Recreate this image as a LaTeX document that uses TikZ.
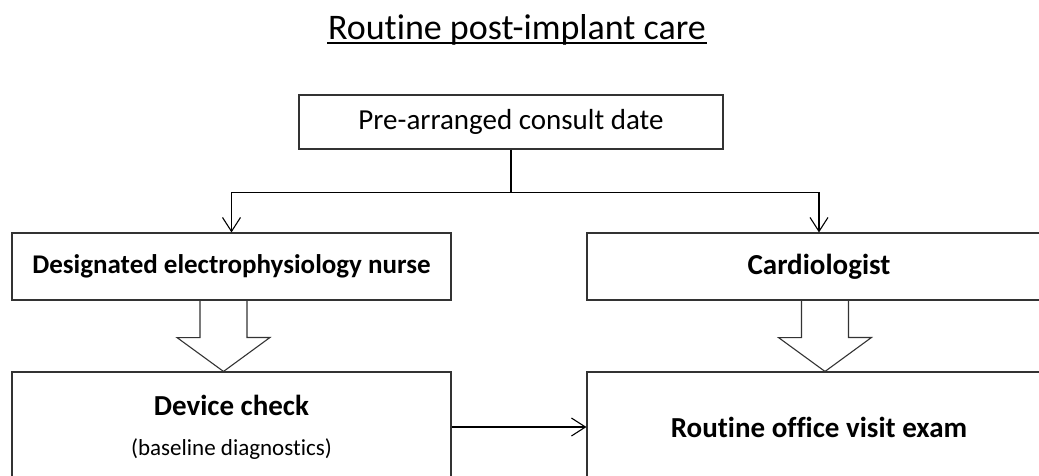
\documentclass[tikz,border=0pt]{standalone}
\usepackage{fontspec}
\setmainfont[RawFeature=-liga]{Carlito}
\usetikzlibrary{positioning,arrows.meta,calc}

\begin{document}
\begin{tikzpicture}[x=1pt, y=-1pt, line width=1.1pt,
  >={Straight Barb[length=14pt,width=18pt]},
  box/.style={draw=black!80, inner sep=0pt, align=center},
  plain/.style={font=\fontsize{29}{35}\selectfont},
  bold/.style={font=\fontsize{29}{35}\selectfont\bfseries},
  fat/.style={draw=black!80, line join=miter}]
  \clip (0,0) rectangle (1039,475);
  \node[inner sep=0pt, anchor=base, font=\fontsize{36}{43}\selectfont]
    (title) at (517,39) {Routine post-implant care};
  \draw ([yshift=-4pt]title.base west) -- ([yshift=-4pt]title.base east);
  \node[box, plain, minimum width=424pt, minimum height=54pt]
    (consult) at (511,122) {Pre-arranged consult date};
  \node[box, bold, minimum width=439pt, minimum height=67pt]
    (nurse) at (231.5,266.5) {\fontsize{27}{33}\selectfont
      Designated electrophysiology nurse};
  \node[box, bold, minimum width=464pt, minimum height=67pt]
    (cardio) at (819,266.5) {Cardiologist};
  \node[box, bold, minimum width=439pt, minimum height=110pt]
    (check) at (231.5,427) {Device check\\[5pt]
      {\mdseries\fontsize{23}{28}\selectfont(baseline diagnostics)}};
  \node[box, bold, minimum width=464pt, minimum height=110pt]
    (exam) at (819,427) {Routine office visit exam};
  \draw (consult.south) -- ++(0,43) coordinate (split);
  \draw[->] (split) -| (nurse.north);
  \draw[->] (split) -| (cardio.north);
  \draw[->] (check) -- (exam);
  % hollow block arrows
  \foreach \up/\down/\dx in {nurse/check/-8, cardio/exam/6}
    \draw[fat] ($(\up.south)+(\dx-23.5,0)$) -- ++(0,37) -- ++(-23,0)
      -- ($(\down.north)+(\dx,0)$) -- ++(46.5,-34) -- ++(-23,0)
      -- ($(\up.south)+(\dx+23.5,0)$);
\end{tikzpicture}
\end{document}
